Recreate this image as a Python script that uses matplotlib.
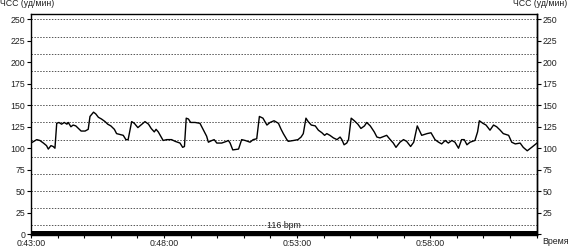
import matplotlib
matplotlib.use("Agg")
import matplotlib.pyplot as plt
from matplotlib.ticker import FixedLocator, MultipleLocator, FuncFormatter

plt.rcParams["font.family"] = ["Liberation Sans", "DejaVu Sans"]

# seconds since start of recording (0:43:00) and heart rate, bpm
t_sec = [0, 13, 20, 28, 35, 39, 45, 50, 54, 58, 63, 69, 75, 81, 84, 90, 95, 101,
         107, 113, 122, 129, 133, 141, 146, 152, 159, 167, 173, 180, 188, 193,
         201, 208, 214, 219, 227, 233, 241, 248, 257, 265, 271, 278, 282, 287,
         298, 306, 317, 325, 336, 342, 346, 350, 355, 360, 370, 381, 389, 396,
         400, 408, 413, 419, 430, 441, 445, 449, 455, 468, 475, 483, 494, 501,
         509, 515, 523, 532, 539, 548, 558, 564, 569, 577, 580, 592, 602, 609,
         614, 620, 625, 632, 641, 648, 656, 662, 667, 674, 682, 690, 697, 701,
         706, 712, 716, 722, 729, 737, 744, 752, 757, 765, 774, 780, 787, 792,
         802, 810, 817, 823, 832, 840, 847, 856, 863, 871, 881, 893, 902, 911,
         919, 926, 934, 941, 949, 956, 964, 971, 977, 983, 990, 1001, 1007,
         1011, 1019, 1026, 1035, 1043, 1050, 1058, 1065, 1077, 1084, 1092,
         1103, 1110, 1119, 1129, 1141]
hr = [106, 110, 109, 106, 103, 99, 103, 102, 100, 129, 130, 128, 130, 128,
      130, 125, 127, 126, 123, 120, 120, 122, 137, 142, 140, 136, 134, 131,
      128, 126, 122, 117, 116, 115, 110, 110, 131, 129, 124, 127, 131, 128,
      123, 119, 122, 119, 109, 110, 110, 108, 106, 101, 102, 135, 134, 130,
      130, 129, 121, 114, 107, 109, 110, 106, 106, 108, 109, 106, 98, 99, 110,
      109, 107, 110, 111, 137, 135, 127, 130, 132, 129, 122, 117, 110, 108,
      109, 110, 113, 117, 135, 131, 127, 126, 121, 118, 115, 117, 115, 112,
      110, 113, 110, 104, 106, 110, 135, 132, 128, 123, 126, 130, 126, 119,
      113, 112, 113, 115, 110, 106, 101, 107, 110, 108, 102, 107, 126, 115,
      117, 118, 110, 107, 105, 109, 106, 109, 107, 100, 110, 110, 104, 107,
      109, 119, 132, 129, 127, 121, 127, 125, 121, 117, 115, 107, 105, 106,
      101, 97, 101, 106]

start_sec = 43 * 60
y_ticks = [0, 25, 50, 75, 100, 125, 150, 175, 200, 225, 250]
grid_levels = [10, 30, 50, 70, 90, 110, 130, 150, 170, 190, 210, 230, 250]
x_major = [0, 300, 600, 900]
avg_label = "116 bpm"
y_title = "ЧСС (уд/мин)"
x_title = "Время"

FS = 6.3
TXT = "#222222"


def hms(v, pos=None):
    s = int(round(v + start_sec))
    return "%d:%02d:%02d" % (s // 3600, (s % 3600) // 60, s % 60)


fig = plt.figure(figsize=(5.7, 2.48), dpi=100)
ax = fig.add_axes([31 / 570, 12.7 / 248, 506 / 570, 221.3 / 248])

for g in grid_levels:
    ax.axhline(g, color="#555555", lw=0.7, ls=(0, (1.5, 1.5)), zorder=1)

ax.axhspan(-1.5, 4, color="black", lw=0, zorder=2)
ax.plot(t_sec, hr, color="black", lw=1.0, zorder=3)

ax.set_xlim(0, 1141)
ax.set_ylim(-1.5, 256.4)

ax.xaxis.set_major_locator(FixedLocator(x_major))
ax.xaxis.set_minor_locator(MultipleLocator(60))
ax.xaxis.set_major_formatter(FuncFormatter(hms))
ax.set_yticks(y_ticks)
ax.tick_params(axis="y", direction="out", length=3, width=0.8,
               labelsize=FS, labelcolor=TXT, pad=1)
ax.tick_params(axis="x", which="both", direction="out", length=2.5, width=0.8,
               labelsize=FS, labelcolor=TXT, pad=0.3)

# right axis repeats the scale, without the "0"
ax2 = ax.secondary_yaxis("right")
ax2.set_yticks(y_ticks)
ax2.set_yticklabels(["" if v == 0 else str(v) for v in y_ticks])
ax2.tick_params(length=3, width=0.8, labelsize=FS, labelcolor=TXT, pad=1)

for sp in ax.spines.values():
    sp.set_linewidth(1.0)
ax2.spines["right"].set_linewidth(1.0)

ax.text(0.5, 10.5, avg_label, transform=ax.get_yaxis_transform(),
        ha="center", va="center", fontsize=FS, color=TXT, zorder=4)

fig.text(0 / 570, 1 - 4 / 248, y_title, ha="left", va="center", fontsize=FS,
         color=TXT)
fig.text(567 / 570, 1 - 4 / 248, y_title, ha="right", va="center", fontsize=FS,
         color=TXT)
fig.text(569 / 570, 1 - 241 / 248, x_title, ha="right", va="center", fontsize=FS,
         color=TXT)

fig.savefig("out.png", dpi=100)
